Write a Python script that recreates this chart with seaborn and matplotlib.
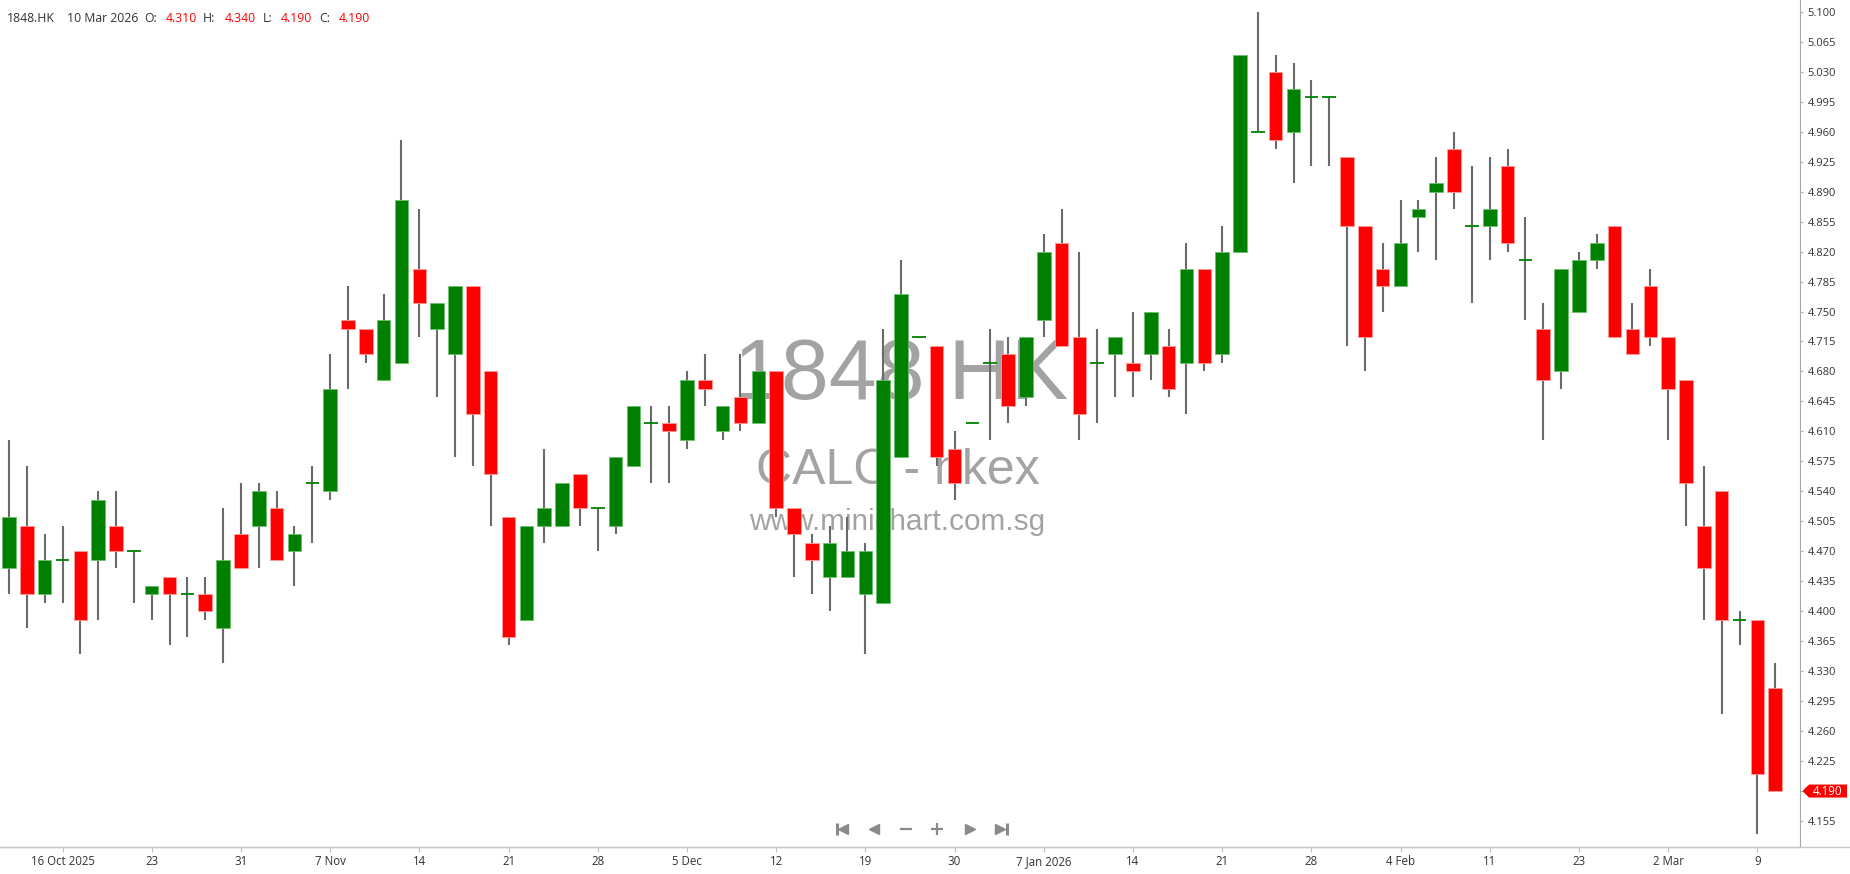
import matplotlib
matplotlib.use("Agg")
import matplotlib.pyplot as plt
from matplotlib.lines import Line2D
from matplotlib.patches import Polygon
import numpy as np
import pandas as pd
import seaborn as sns

# HK trading days 13 Oct 2025 .. 10 Mar 2026
holidays = ["2025-10-29", "2025-12-25", "2025-12-26", "2026-01-01",
            "2026-02-17", "2026-02-18", "2026-02-19"]
dates = pd.bdate_range("2025-10-13", "2026-03-10", freq="C", holidays=holidays)

opens = [4.45, 4.50, 4.42, 4.46, 4.47, 4.46, 4.50, 4.47, 4.42, 4.44,
         4.42, 4.42, 4.38, 4.49, 4.50, 4.52, 4.47, 4.55, 4.54, 4.74,
         4.73, 4.67, 4.69, 4.80, 4.73, 4.70, 4.78, 4.68, 4.51, 4.39,
         4.50, 4.50, 4.56, 4.52, 4.50, 4.57, 4.62, 4.62, 4.60, 4.67,
         4.61, 4.65, 4.62, 4.68, 4.52, 4.48, 4.44, 4.44, 4.42, 4.41,
         4.58, 4.72, 4.71, 4.59, 4.62, 4.69, 4.70, 4.65, 4.74, 4.83,
         4.72, 4.69, 4.70, 4.69, 4.70, 4.71, 4.69, 4.80, 4.70, 4.82,
         4.96, 5.03, 4.96, 5.00, 5.00, 4.93, 4.85, 4.80, 4.78, 4.86,
         4.89, 4.94, 4.85, 4.85, 4.92, 4.81, 4.73, 4.68, 4.75, 4.81,
         4.85, 4.73, 4.78, 4.72, 4.67, 4.50, 4.54, 4.39, 4.39, 4.31]
highs = [4.60, 4.57, 4.49, 4.50, 4.47, 4.54, 4.54, 4.47, 4.43, 4.44,
         4.44, 4.44, 4.52, 4.55, 4.55, 4.54, 4.50, 4.57, 4.70, 4.78,
         4.73, 4.77, 4.95, 4.87, 4.76, 4.78, 4.78, 4.68, 4.51, 4.50,
         4.59, 4.55, 4.56, 4.52, 4.58, 4.64, 4.64, 4.64, 4.68, 4.70,
         4.64, 4.70, 4.68, 4.68, 4.52, 4.49, 4.50, 4.51, 4.48, 4.73,
         4.81, 4.72, 4.71, 4.61, 4.62, 4.73, 4.72, 4.72, 4.84, 4.87,
         4.82, 4.73, 4.72, 4.75, 4.75, 4.73, 4.83, 4.80, 4.85, 5.05,
         5.10, 5.05, 5.04, 5.02, 5.00, 4.93, 4.85, 4.83, 4.88, 4.88,
         4.93, 4.96, 4.92, 4.93, 4.94, 4.86, 4.76, 4.80, 4.82, 4.84,
         4.85, 4.76, 4.80, 4.72, 4.67, 4.57, 4.54, 4.40, 4.39, 4.34]
lows = [4.42, 4.38, 4.41, 4.41, 4.35, 4.39, 4.45, 4.41, 4.39, 4.36,
        4.37, 4.39, 4.34, 4.45, 4.45, 4.46, 4.43, 4.48, 4.53, 4.66,
        4.69, 4.67, 4.69, 4.72, 4.65, 4.58, 4.57, 4.50, 4.36, 4.39,
        4.48, 4.50, 4.50, 4.47, 4.49, 4.57, 4.55, 4.55, 4.59, 4.64,
        4.60, 4.61, 4.62, 4.51, 4.44, 4.42, 4.40, 4.44, 4.35, 4.41,
        4.58, 4.72, 4.57, 4.53, 4.62, 4.60, 4.62, 4.64, 4.72, 4.71,
        4.60, 4.62, 4.65, 4.65, 4.67, 4.65, 4.63, 4.68, 4.69, 4.82,
        4.96, 4.94, 4.90, 4.92, 4.92, 4.71, 4.68, 4.75, 4.78, 4.82,
        4.81, 4.87, 4.76, 4.81, 4.82, 4.74, 4.60, 4.66, 4.75, 4.80,
        4.72, 4.70, 4.71, 4.60, 4.50, 4.39, 4.28, 4.36, 4.14, 4.19]
closes = [4.51, 4.42, 4.46, 4.46, 4.39, 4.53, 4.47, 4.47, 4.43, 4.42,
          4.42, 4.40, 4.46, 4.45, 4.54, 4.46, 4.49, 4.55, 4.66, 4.73,
          4.70, 4.74, 4.88, 4.76, 4.76, 4.78, 4.63, 4.56, 4.37, 4.50,
          4.52, 4.55, 4.52, 4.52, 4.58, 4.64, 4.62, 4.61, 4.67, 4.66,
          4.64, 4.62, 4.68, 4.52, 4.49, 4.46, 4.48, 4.47, 4.47, 4.67,
          4.77, 4.72, 4.58, 4.55, 4.62, 4.69, 4.64, 4.72, 4.82, 4.71,
          4.63, 4.69, 4.72, 4.68, 4.75, 4.66, 4.80, 4.69, 4.82, 5.05,
          4.96, 4.95, 5.01, 5.00, 5.00, 4.85, 4.72, 4.78, 4.83, 4.87,
          4.90, 4.89, 4.85, 4.87, 4.83, 4.81, 4.67, 4.80, 4.81, 4.83,
          4.72, 4.70, 4.72, 4.66, 4.55, 4.45, 4.39, 4.39, 4.21, 4.19]

tick_dates = ["2025-10-16", "2025-10-23", "2025-10-31", "2025-11-07", "2025-11-14",
              "2025-11-21", "2025-11-28", "2025-12-05", "2025-12-12", "2025-12-19",
              "2025-12-30", "2026-01-07", "2026-01-14", "2026-01-21", "2026-01-28",
              "2026-02-04", "2026-02-11", "2026-02-23", "2026-03-02", "2026-03-09"]
tick_labels = ["16 Oct 2025", "23", "31", "7 Nov", "14", "21", "28", "5 Dec", "12", "19",
               "30", "7 Jan 2026", "14", "21", "28", "4 Feb", "11", "23", "2 Mar", "9"]
price_ticks = [4.155, 4.190, 4.225, 4.260, 4.295, 4.330, 4.365, 4.400, 4.435, 4.470,
               4.505, 4.540, 4.575, 4.610, 4.645, 4.680, 4.715, 4.750, 4.785, 4.820,
               4.855, 4.890, 4.925, 4.960, 4.995, 5.030, 5.065, 5.100]

GREEN = "#008000"
RED = "#ff0000"

df = pd.DataFrame({"date": dates, "open": opens, "high": highs,
                   "low": lows, "close": closes})
df["x"] = np.arange(len(df))
df["up"] = df["close"] >= df["open"]
df["color"] = np.where(df["up"], GREEN, RED)
df["edge"] = np.where(df["up"], "#6fbf6f", "#ff9a9a")
df["bottom"] = df[["open", "close"]].min(axis=1)
df["height"] = (df["close"] - df["open"]).abs()

sns.set_theme(style="white")
plt.rcParams["font.family"] = ["Open Sans", "DejaVu Sans"]

W, H = 1850, 874
fig = plt.figure(figsize=(W / 100, H / 100), dpi=100)
fig.patch.set_facecolor("white")
ax = fig.add_axes([0, 27 / H, 1800 / W, 847 / H])
ax.set_facecolor("white")

# watermark behind the candles
wm = dict(transform=fig.transFigure, ha="center", va="baseline",
          color="#a3a3a3", family="Liberation Sans", zorder=1)
ax.text(901 / W, 1 - 399 / H, "1848.HK", fontsize=62, **wm)
ax.text(898 / W, 1 - 484 / H, "CALC - hkex", fontsize=36, **wm)
ax.text(897 / W, 1 - 530 / H, "www.minichart.com.sg", fontsize=21.4, **wm)

# wicks
ax.vlines(df["x"], df["low"], df["high"], color="#6a6a6a", lw=1.5, zorder=2)

# bodies
body = df[df["height"] > 0]
ax.bar(body["x"], body["height"], bottom=body["bottom"], width=0.76,
       color=body["color"], edgecolor=body["edge"], linewidth=0.6, zorder=3)

# doji
doji = df[df["height"] == 0]
ax.hlines(doji["close"], doji["x"] - 0.38, doji["x"] + 0.38, color=GREEN,
          lw=1.3, zorder=3)

ax.set_xlim(-0.504, 100.39)
ax.set_ylim(4.1246, 5.1138)

last = df["close"].iloc[-1]

# axes and ticks
date_index = {d.strftime("%Y-%m-%d"): i for i, d in enumerate(df["date"])}
ax.set_xticks([date_index[d] for d in tick_dates])
ax.set_xticklabels(tick_labels)
ax.yaxis.tick_right()
ax.set_yticks(price_ticks)
# the 4.190 label sits under the last-price tag
ax.set_yticklabels(["" if abs(v - last) < 1e-9 else f"{v:.3f}" for v in price_ticks])
ax.tick_params(axis="x", length=3.6, width=0.8, color="#c0c0c0", pad=2.5,
               labelsize=8.3, labelcolor="#333333", bottom=True)
ax.tick_params(axis="y", length=2, width=0.8, color="#b0b0b0", pad=3.6,
               labelsize=8, labelcolor="#333333", right=True, left=False)
ax.grid(False)
for side in ["top", "left"]:
    ax.spines[side].set_visible(False)
ax.spines["right"].set_color("#a8a8a8")
ax.spines["right"].set_linewidth(0.8)
ax.spines["bottom"].set_color("#c8c8c8")
ax.spines["bottom"].set_linewidth(1.0)
fig.add_artist(Line2D([0, 1], [27 / H, 27 / H], transform=fig.transFigure,
                      color="#c8c8c8", lw=1.0))

# last price tag
ylast = 11.8 + (5.100 - last) * 856.3
tag = Polygon([(1802.5 / W, 1 - ylast / H), (1809 / W, 1 - (ylast - 6.5) / H),
               (1847 / W, 1 - (ylast - 6.5) / H), (1847 / W, 1 - (ylast + 6.5) / H),
               (1809 / W, 1 - (ylast + 6.5) / H)],
              closed=True, transform=fig.transFigure, facecolor=RED,
              edgecolor="none", zorder=5)
fig.add_artist(tag)
fig.text(1828 / W, 1 - ylast / H, f"{last:.3f}", color="white", fontsize=8.3,
         ha="center", va="center", zorder=6)

# header line
hy = 1 - 18.3 / H
header = [(7, "1848.HK", "#333333"), (66.7, "10 Mar 2026", "#333333"),
          (144, "O:", "#333333"), (165.7, f"{opens[-1]:.3f}", RED),
          (203, "H:", "#333333"), (225, f"{highs[-1]:.3f}", RED),
          (263, "L:", "#333333"), (281, f"{lows[-1]:.3f}", RED),
          (319, "C:", "#333333"), (339, f"{closes[-1]:.3f}", RED)]
for xp, s, c in header:
    fig.text(xp / W, hy, s, color=c, fontsize=8.8, ha="left", va="center")

# navigation buttons
ny = 1 - 829 / H
navc = "#8a8a8a"
def nav(xp, marker, ms, mew=1.0):
    fig.add_artist(Line2D([xp / W], [ny], transform=fig.transFigure, marker=marker,
                          ms=ms, color=navc, mec=navc, mew=mew, ls="none"))
nav(836.5, "|", 8, 2.2)
nav(843, "<", 7.5)
nav(873.5, "<", 7.5)
nav(905.5, "_", 9, 1.6)
nav(937, "+", 9, 1.6)
nav(969.5, ">", 7.5)
nav(1000, ">", 7.5)
nav(1006.5, "|", 8, 2.2)

fig.savefig("out.png", dpi=100, facecolor="white")
